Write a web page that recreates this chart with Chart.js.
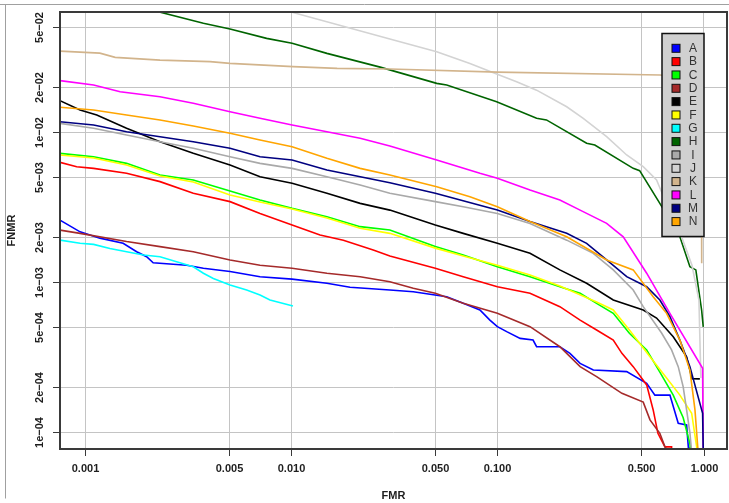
<!DOCTYPE html>
<html>
<head>
<meta charset="utf-8">
<script src="https://cdn.jsdelivr.net/npm/chart.js@4.4.1/dist/chart.umd.min.js"></script>
<style>
  html, body { margin: 0; padding: 0; background: #ffffff; }
  canvas { display: block; }
</style>
</head>
<body>
<canvas id="c" width="729" height="503"></canvas>
<script>
// ---------- data (FMR, FNMR) ----------
const seriesLabels = ['A','B','C','D','E','F','G','H','I','J','K','L','M','N'];

const A = [[0.000756,0.0026],[0.000946,0.00217],[0.00118,0.00197],[0.00153,0.00182],[0.00178,0.0016],[0.00199,0.00148],[0.00214,0.00135],[0.00311,0.0013],[0.00375,0.00124],[0.00505,0.00118],[0.00706,0.00109],[0.0101,0.00105],[0.0149,0.000985],[0.0193,0.000926],[0.0301,0.000889],[0.0391,0.000866],[0.0568,0.000802],[0.0683,0.000724],[0.0823,0.000654],[0.092,0.00056],[0.1,0.000506],[0.111,0.000469],[0.129,0.000423],[0.149,0.000412],[0.155,0.000372],[0.201,0.000372],[0.225,0.000336],[0.252,0.000288],[0.292,0.00026],[0.424,0.000254],[0.53,0.000212],[0.581,0.000177],[0.687,0.000177],[0.754,0.000115],[0.828,0.000112],[0.844,0.00008],[0.85,0.00007]];
const B = [[0.000756,0.00631],[0.000911,0.0059],[0.0011,0.00575],[0.00159,0.00533],[0.00231,0.00469],[0.00335,0.00392],[0.00505,0.00345],[0.00706,0.00288],[0.0101,0.00241],[0.0138,0.00207],[0.0179,0.00191],[0.025,0.00164],[0.0301,0.0015],[0.05,0.00124],[0.0683,0.00109],[0.1,0.000935],[0.144,0.000845],[0.201,0.000688],[0.252,0.00056],[0.303,0.000481],[0.365,0.000412],[0.402,0.000336],[0.456,0.000274],[0.53,0.000207],[0.57,0.000141],[0.601,0.0000985],[0.65,0.00008],[0.70,0.00008],[0.70,0.00007]];
const C = [[0.000756,0.00724],[0.0011,0.00688],[0.00159,0.00621],[0.00231,0.00519],[0.00335,0.00481],[0.00505,0.00406],[0.00706,0.00354],[0.0101,0.00311],[0.0149,0.00274],[0.0216,0.00235],[0.0301,0.00223],[0.05,0.00173],[0.0683,0.00152],[0.1,0.00127],[0.144,0.00109],[0.201,0.000935],[0.252,0.000845],[0.303,0.000724],[0.365,0.000621],[0.437,0.000457],[0.53,0.000354],[0.614,0.000252],[0.713,0.000177],[0.797,0.000125],[0.859,0.000084],[0.869,0.00007]];
const D = [[0.000756,0.00223],[0.000946,0.00212],[0.00159,0.00187],[0.00231,0.00173],[0.00335,0.0016],[0.00505,0.00141],[0.00706,0.0013],[0.0101,0.00124],[0.0149,0.00115],[0.0216,0.00109],[0.0301,0.00101],[0.0391,0.000912],[0.05,0.000845],[0.0683,0.000724],[0.1,0.000621],[0.144,0.000506],[0.201,0.000372],[0.252,0.000274],[0.303,0.000235],[0.402,0.000182],[0.51,0.000159],[0.55,0.000121],[0.614,0.0000985],[0.65,0.00008],[0.70,0.00007]];
const E = [[0.000756,0.01625],[0.000946,0.01408],[0.00114,0.01304],[0.00159,0.01063],[0.00231,0.00866],[0.00335,0.00724],[0.00505,0.00605],[0.00706,0.00506],[0.0101,0.00457],[0.0149,0.00392],[0.0216,0.00336],[0.0301,0.00303],[0.05,0.00241],[0.0683,0.00212],[0.1,0.00182],[0.144,0.00156],[0.201,0.00121],[0.271,0.000985],[0.365,0.000762],[0.51,0.000654],[0.592,0.000578],[0.713,0.000434],[0.828,0.000319],[0.879,0.000228],[0.96,0.000227]];
const F = [[0.000756,0.00706],[0.0011,0.00674],[0.00159,0.00605],[0.00231,0.00511],[0.00335,0.00466],[0.00505,0.00382],[0.00706,0.00343],[0.0101,0.00308],[0.0149,0.00268],[0.0216,0.00229],[0.0301,0.00212],[0.05,0.00169],[0.0683,0.0015],[0.1,0.0013],[0.144,0.00112],[0.201,0.000945],[0.303,0.000739],[0.365,0.000654],[0.437,0.000481],[0.55,0.000319],[0.662,0.00023],[0.768,0.000177],[0.876,0.000134],[0.926,0.00008],[0.935,0.00007]];
const G = [[0.000756,0.00191],[0.000946,0.00182],[0.0011,0.00179],[0.00132,0.00168],[0.00192,0.00152],[0.00231,0.00148],[0.00278,0.00137],[0.00335,0.00127],[0.00375,0.00115],[0.00419,0.00106],[0.00505,0.00096],[0.00608,0.000889],[0.00706,0.000823],[0.00789,0.000762],[0.0102,0.000695]];
const H = [[0.00185,0.0684],[0.00375,0.0533],[0.00505,0.0488],[0.0076,0.0423],[0.0101,0.0392],[0.0149,0.0336],[0.027,0.0272],[0.0508,0.0212],[0.0568,0.0207],[0.0992,0.016],[0.155,0.0124],[0.173,0.0121],[0.271,0.00845],[0.297,0.00823],[0.456,0.00575],[0.49,0.00555],[0.614,0.00336],[0.768,0.00201],[0.859,0.00127],[0.918,0.00121],[0.979,0.000654],[0.997,0.000504]];
const I = [[0.000756,0.01148],[0.0011,0.01063],[0.00159,0.0096],[0.00231,0.00866],[0.00335,0.00782],[0.00505,0.00688],[0.00706,0.00621],[0.0101,0.00575],[0.0149,0.00506],[0.0216,0.00445],[0.0301,0.00392],[0.05,0.00345],[0.0683,0.00319],[0.1,0.00288],[0.144,0.00247],[0.217,0.00191],[0.292,0.00156],[0.365,0.00121],[0.456,0.000889],[0.51,0.000688],[0.626,0.000459],[0.70,0.000354],[0.754,0.000274],[0.797,0.000201],[0.828,0.000141],[0.859,0.000099],[0.876,0.000074]];
const J = [[0.00789,0.0695],[0.0101,0.0631],[0.0301,0.0419],[0.0508,0.0345],[0.0736,0.0288],[0.0992,0.0245],[0.124,0.0217],[0.155,0.0191],[0.217,0.0148],[0.261,0.0124],[0.339,0.00935],[0.424,0.00706],[0.51,0.0059],[0.592,0.00481],[0.635,0.00382],[0.768,0.00216],[0.879,0.0013],[0.95,0.000762],[0.971,0.00023]];
const K = [[0.000756,0.0348],[0.00118,0.0337],[0.0014,0.0316],[0.00231,0.0303],[0.00404,0.0296],[0.00505,0.0288],[0.0102,0.0274],[0.0167,0.0267],[0.0301,0.0264],[0.1,0.0252],[0.615,0.0241],[0.859,0.023],[0.96,0.0141],[0.979,0.002],[0.98,0.00134]];
const L = [[0.000756,0.0221],[0.0011,0.0207],[0.00148,0.01865],[0.00231,0.01727],[0.00335,0.01561],[0.00505,0.01372],[0.00706,0.0124],[0.0101,0.01119],[0.0149,0.01009],[0.0216,0.00912],[0.0301,0.0081],[0.0508,0.00654],[0.0823,0.00533],[0.1,0.00494],[0.144,0.00412],[0.201,0.00354],[0.252,0.00303],[0.339,0.00247],[0.408,0.00201],[0.53,0.00115],[0.687,0.000621],[0.99,0.000267],[0.997,0.000065]];
const M = [[0.000756,0.01177],[0.0011,0.01119],[0.00159,0.01009],[0.00231,0.00935],[0.00335,0.00866],[0.00505,0.00782],[0.00706,0.00688],[0.0101,0.00654],[0.0149,0.0056],[0.0301,0.00461],[0.05,0.00392],[0.1,0.00303],[0.144,0.00254],[0.217,0.00212],[0.271,0.00182],[0.339,0.00141],[0.424,0.00109],[0.53,0.000935],[0.614,0.000762],[0.687,0.00059],[0.768,0.000412],[0.859,0.000274],[0.99,0.000134],[1.0,0.00006]];
const N = [[0.000756,0.01468],[0.0011,0.01408],[0.00159,0.01304],[0.00231,0.01208],[0.00335,0.01102],[0.00505,0.00985],[0.00706,0.00889],[0.0101,0.00802],[0.0149,0.00671],[0.0216,0.00575],[0.0301,0.00519],[0.0508,0.00434],[0.0736,0.00372],[0.1,0.00319],[0.144,0.00254],[0.217,0.00201],[0.339,0.00141],[0.456,0.00121],[0.57,0.000802],[0.662,0.000621],[0.768,0.000412],[0.859,0.00026],[0.909,0.000141],[0.94,0.000076],[0.945,0.00007]];

const seriesData = [A,B,C,D,E,F,G,H,I,J,K,L,M,N];

const xTickValues = [0.001, 0.005, 0.010, 0.050, 0.100, 0.500, 1.000];
const xTickLabels = ['0.001','0.005','0.010','0.050','0.100','0.500','1.000'];
const yTickValues = [1e-4, 2e-4, 5e-4, 1e-3, 2e-3, 5e-3, 1e-2, 2e-2, 5e-2];
const yTickLabels = ['1e\u221204','2e\u221204','5e\u221204','1e\u221203','2e\u221203','5e\u221203','1e\u221202','2e\u221202','5e\u221202'];
const xRange = [0.000756, 1.30];
const yRange = [7.74e-5, 0.0634];

// ---------- styles ----------
const seriesColors = ['#0000FF','#FF0000','#00FF00','#A52A2A','#000000','#FFFF00','#00FFFF',
                      '#006400','#A9A9A9','#D3D3D3','#D2B48C','#FF00FF','#000080','#FFA500'];
const FONT = '"Liberation Sans", Arial, Helvetica, sans-serif';

const decor = {
  id: 'decor',
  afterDraw(chart) {
    const { ctx, chartArea: a, scales: { x, y } } = chart;
    ctx.save();
    // outer frame of the figure
    ctx.strokeStyle = '#a0a0a0';
    ctx.lineWidth = 1;
    ctx.beginPath();
    ctx.moveTo(0, 4.5); ctx.lineTo(729, 4.5);
    ctx.moveTo(5.5, 4.5); ctx.lineTo(5.5, 498.5);
    ctx.stroke();

    // plot box
    ctx.strokeStyle = '#3a3a3a';
    ctx.lineWidth = 2;
    ctx.strokeRect(a.left, a.top, a.right - a.left, a.bottom - a.top);

    // ticks + labels
    ctx.lineWidth = 1;
    ctx.fillStyle = '#1e1e1e';
    ctx.font = 'bold 11px ' + FONT;
    ctx.textAlign = 'center';
    ctx.textBaseline = 'middle';
    xTickValues.forEach((v, i) => {
      const px = Math.round(x.getPixelForValue(v)) + 0.5;
      ctx.beginPath(); ctx.moveTo(px, a.bottom); ctx.lineTo(px, a.bottom + 7); ctx.stroke();
      ctx.fillText(xTickLabels[i], px, 469);
    });
    yTickValues.forEach((v, i) => {
      const py = Math.round(y.getPixelForValue(v)) + 0.5;
      ctx.beginPath(); ctx.moveTo(a.left - 7, py); ctx.lineTo(a.left, py); ctx.stroke();
      ctx.save();
      ctx.translate(40, py);
      ctx.rotate(-Math.PI / 2);
      ctx.fillText(yTickLabels[i], 0, 0);
      ctx.restore();
    });

    // axis titles
    ctx.fillText('FMR', (a.left + a.right) / 2, 496);
    ctx.save();
    ctx.translate(12, (a.top + a.bottom) / 2);
    ctx.rotate(-Math.PI / 2);
    ctx.fillText('FNMR', 0, 0);
    ctx.restore();

    // legend
    const lx = 662, ly = 33.5, lw = 42, lh = 203;
    ctx.fillStyle = '#D0D0D0';
    ctx.fillRect(lx, ly, lw, lh);
    ctx.strokeStyle = '#111';
    ctx.lineWidth = 1.5;
    ctx.strokeRect(lx, ly, lw, lh);
    ctx.font = '12px ' + FONT;
    chart.data.datasets.forEach((ds, i) => {
      const cy = 48.3 + i * 13.33;
      ctx.fillStyle = ds.borderColor;
      ctx.fillRect(672, cy - 4, 8, 8);
      ctx.strokeStyle = '#111';
      ctx.lineWidth = 1;
      ctx.strokeRect(672, cy - 4, 8, 8);
      ctx.fillStyle = '#333';
      ctx.textAlign = 'center';
      ctx.fillText(ds.label, 693, cy + 0.5);
    });
    ctx.restore();
  }
};

new Chart(document.getElementById('c'), {
  type: 'line',
  data: {
    datasets: seriesData.map((d, i) => ({
      label: seriesLabels[i],
      data: d.map(p => ({ x: p[0], y: p[1] })),
      borderColor: seriesColors[i],
      backgroundColor: seriesColors[i],
      borderWidth: 1.6,
      pointRadius: 0,
      tension: 0,
      fill: false,
      order: seriesLabels.length - i
    }))
  },
  options: {
    responsive: false,
    animation: false,
    parsing: true,
    layout: { padding: { left: 0, right: 2, top: 12, bottom: 0 } },
    plugins: { legend: { display: false }, tooltip: { enabled: false } },
    scales: {
      x: {
        type: 'logarithmic',
        min: xRange[0], max: xRange[1],
        afterBuildTicks: s => { s.ticks = xTickValues.map(v => ({ value: v })); },
        afterFit: s => { s.height = 54; },
        ticks: { display: false },
        grid: { color: '#c4c4c4', lineWidth: 1, drawTicks: false },
        border: { display: false }
      },
      y: {
        type: 'logarithmic',
        min: yRange[0], max: yRange[1],
        afterBuildTicks: s => { s.ticks = yTickValues.map(v => ({ value: v })); },
        afterFit: s => { s.width = 60; },
        ticks: { display: false },
        grid: { color: '#c4c4c4', lineWidth: 1, drawTicks: false },
        border: { display: false }
      }
    }
  },
  plugins: [decor]
});
</script>
</body>
</html>
